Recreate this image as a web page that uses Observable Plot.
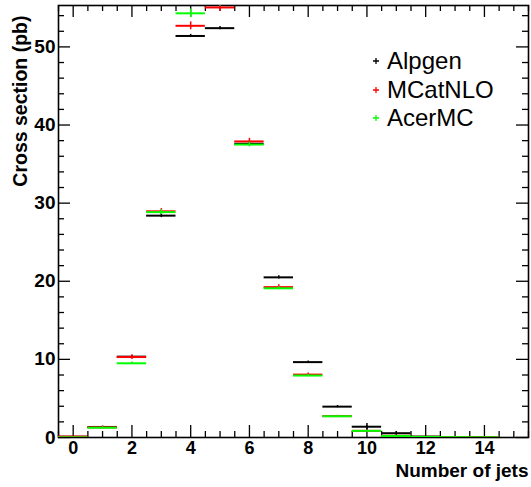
<!DOCTYPE html>
<html><head><meta charset="utf-8">
<script src="https://cdn.jsdelivr.net/npm/d3@7"></script>
<script src="https://cdn.jsdelivr.net/npm/@observablehq/plot@0.6"></script>
<style>
body{margin:0;background:#fff;}
#wrap{position:relative;width:531px;height:487px;}
#legend{position:absolute;left:365px;top:47px;font-family:"Liberation Sans",Arial,sans-serif;font-size:24px;line-height:28.5px;color:#000;}
#legend .row{display:flex;align-items:center;height:28.5px;}
#legend svg{width:22px;height:10px;flex:none;}
</style></head><body><div id="wrap"></div>
<script>
// Number of jets (bin centres)
const nJets = [0,1,2,3,4,5,6,7,8,9,10,11,12,13,14];
// Cross section (pb) per sample
const alpgen    = [0.10, 1.35, 10.35, 28.40, 51.40, 52.40, 37.60, 20.50, 9.65, 3.95, 1.38, 0.55, 0.12, 0.04, 0.01];
const alpgenErr = [0.05, 0.10, 0.15, 0.25, 0.20, 0.20, 0.20, 0.20, 0.15, 0.15, 0.40, 0.20, 0.05, 0.03, 0.01];
const mcatnlo    = [0.12, 1.30, 10.30, 28.95, 52.70, 55.05, 37.90, 19.25, 8.05, 2.74, 0.85, 0.22, 0.08, 0.04, 0.02];
const mcatnloErr = [0.05, 0.15, 0.30, 0.35, 0.50, 0.50, 0.40, 0.30, 0.20, 0.10, 0.08, 0.05, 0.03, 0.02, 0.01];
const acermc    = [0.02, 1.25, 9.50, 28.85, 54.30, 55.80, 37.50, 19.10, 7.93, 2.72, 0.85, 0.20, 0.08, 0.04, 0.02];
const acermcErr = [0.02, 0.10, 0.15, 0.30, 0.55, 0.55, 0.30, 0.20, 0.15, 0.08, 0.05, 0.04, 0.02, 0.01, 0.01];

const seriesNames  = ["Alpgen", "MCatNLO", "AcerMC"];
const seriesColors = ["#000000", "#ff0000", "#00ff00"];

// Axis ticks
const xMajor = [0,2,4,6,8,10,12,14];
const xMinor = [-0.5,0.5,1,1.5,2.5,3,3.5,4.5,5,5.5,6.5,7,7.5,8.5,9,9.5,10.5,11,11.5,12.5,13,13.5,14.5,15,15.5];
const yMajor = [0,10,20,30,40,50];
const yMinor = [2,4,6,8,12,14,16,18,22,24,26,28,32,34,36,38,42,44,46,48,52,54];
const xDomain = [-0.5, 15.5];
const yDomain = [0, 55.3];

const W = 531, H = 487, mL = 58, mR = 3, mT = 5, mB = 50;
const pw = W - mL - mR, ph = H - mT - mB;

const table = (vals, errs) => nJets.map((b, i) => ({bin: b, v: vals[i], e: errs[i]}));
const sets = [table(alpgen, alpgenErr), table(mcatnlo, mcatnloErr), table(acermc, acermcErr)];

const dataMarks = [];
sets.forEach((s, k) => {
  dataMarks.push(Plot.ruleY(s, {y: "v", x1: d => d.bin - 0.5, x2: d => d.bin + 0.5, stroke: seriesColors[k], strokeWidth: 2, clip: true}));
  dataMarks.push(Plot.ruleX(s, {x: "bin", y1: d => d.v - d.e, y2: d => d.v + d.e, stroke: seriesColors[k], strokeWidth: 1.5, clip: true}));
});

const tk = {stroke: "#000", strokeWidth: 1.3};
const chart = Plot.plot({
  width: W, height: H,
  marginLeft: mL, marginRight: mR, marginTop: mT, marginBottom: mB,
  style: {fontFamily: "'Liberation Sans', Arial, sans-serif", background: "#fff", color: "#000"},
  x: {domain: xDomain, axis: null},
  y: {domain: yDomain, axis: null},
  marks: [
    Plot.frame({stroke: "#000", strokeWidth: 1.6}),
    Plot.tickX(xMajor, {x: d => d, insetTop: ph - 12, ...tk}),
    Plot.tickX(xMinor, {x: d => d, insetTop: ph - 6, ...tk}),
    Plot.tickX(xMajor, {x: d => d, insetBottom: ph - 12, ...tk}),
    Plot.tickX(xMinor, {x: d => d, insetBottom: ph - 6, ...tk}),
    Plot.tickY(yMajor, {y: d => d, insetRight: pw - 12, ...tk}),
    Plot.tickY(yMinor, {y: d => d, insetRight: pw - 6, ...tk}),
    Plot.tickY(yMajor, {y: d => d, insetLeft: pw - 12, ...tk}),
    Plot.tickY(yMinor, {y: d => d, insetLeft: pw - 6, ...tk}),
    Plot.axisX(xMajor, {tickSize: 0, tickPadding: 4, fontSize: 18, fontWeight: "bold", label: null}),
    Plot.axisY(yMajor, {tickSize: 0, tickPadding: 3, fontSize: 19, fontWeight: "bold", label: null}),
    Plot.text(["Cross section (pb)"], {frameAnchor: "top-left", rotate: -90, textAnchor: "end", dx: -45, dy: 10, fontSize: 19.5, fontWeight: "bold", fill: "#000"}),
    Plot.text(["Number of jets"], {frameAnchor: "bottom-right", textAnchor: "end", dy: 39, fontSize: 19, fontWeight: "bold", fill: "#000"}),
    ...dataMarks
  ]
});

const wrap = document.getElementById("wrap");
wrap.appendChild(chart);
const legend = document.createElement("div");
legend.id = "legend";
const NS = "http://www.w3.org/2000/svg";
seriesNames.forEach((n, k) => {
  const row = document.createElement("div");
  row.className = "row";
  const mk = document.createElementNS(NS, "svg");
  mk.setAttribute("viewBox", "0 0 22 10");
  const p = document.createElementNS(NS, "path");
  p.setAttribute("d", "M8,5H14M11,2V8");
  p.setAttribute("stroke", seriesColors[k]);
  p.setAttribute("stroke-width", "1.3");
  p.setAttribute("fill", "none");
  mk.appendChild(p);
  const tx = document.createElement("span");
  tx.textContent = n;
  row.appendChild(mk); row.appendChild(tx);
  legend.appendChild(row);
});
wrap.appendChild(legend);
</script></body></html>
